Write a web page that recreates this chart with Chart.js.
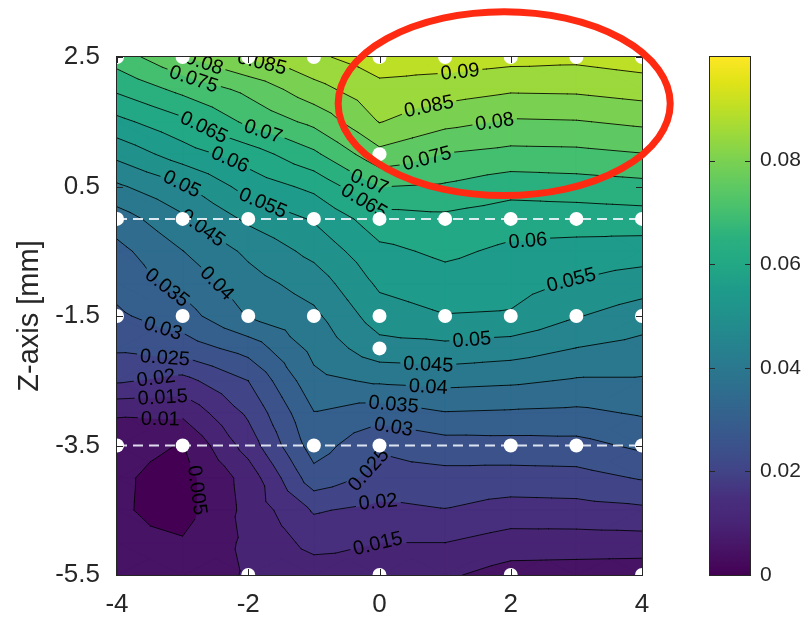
<!DOCTYPE html>
<html>
<head>
<meta charset="utf-8">
<title>Z-axis contour map</title>
<script src="https://cdn.jsdelivr.net/npm/chart.js@4.4.1/dist/chart.umd.min.js"></script>
<style>
  html, body { margin: 0; padding: 0; background: #ffffff; }
  #frame { width: 803px; height: 623px; }
</style>
</head>
<body>
<div id="frame"><canvas id="chart" width="803" height="623"></canvas></div>
<script>
// Measurement grid: X positions (columns) and Z positions (rows, top to bottom)
const gridX = [-4, -3, -2, -1, 0, 1, 2, 3, 4];
const gridZ = [2.5, 2, 1.5, 1, 0.5, 0, -0.5, -1, -1.5, -2, -2.5, -3, -3.5, -4, -4.5, -5, -5.5];

// Field value along each grid row (X = -4 ... 4)
const zRow_2_5  = [0.0724, 0.0795, 0.0855, 0.0890, 0.0928, 0.0926, 0.0918, 0.0913, 0.0927];
const zRow_2_0  = [0.0659, 0.0714, 0.0763, 0.0832, 0.0885, 0.0874, 0.0857, 0.0859, 0.0872];
const zRow_1_5  = [0.0586, 0.0638, 0.0711, 0.0763, 0.0852, 0.0815, 0.0794, 0.0797, 0.0810];
const zRow_1_0  = [0.0514, 0.0576, 0.0624, 0.0690, 0.0785, 0.0748, 0.0735, 0.0737, 0.0748];
const zRow_0_5  = [0.0442, 0.0493, 0.0570, 0.0613, 0.0701, 0.0694, 0.0670, 0.0676, 0.0684];
const zRow_0_0  = [0.0375, 0.0441, 0.0510, 0.0555, 0.0629, 0.0638, 0.0622, 0.0623, 0.0627];
const zRow_m0_5 = [0.0335, 0.0399, 0.0460, 0.0515, 0.0588, 0.0610, 0.0590, 0.0582, 0.0575];
const zRow_m1_0 = [0.0315, 0.0365, 0.0430, 0.0472, 0.0559, 0.0580, 0.0569, 0.0544, 0.0523];
const zRow_m1_5 = [0.0292, 0.0328, 0.0403, 0.0439, 0.0526, 0.0548, 0.0545, 0.0503, 0.0474];
const zRow_m2_0 = [0.0257, 0.0274, 0.0320, 0.0415, 0.0481, 0.0486, 0.0474, 0.0449, 0.0433];
const zRow_m2_5 = [0.0207, 0.0184, 0.0250, 0.0386, 0.0408, 0.0415, 0.0409, 0.0395, 0.0395];
const zRow_m3_0 = [0.0106, 0.0110, 0.0209, 0.0348, 0.0323, 0.0347, 0.0343, 0.0339, 0.0355];
const zRow_m3_5 = [0.0065, 0.0048, 0.0172, 0.0325, 0.0255, 0.0278, 0.0281, 0.0284, 0.0310];
const zRow_m4_0 = [0.0058, 0.0030, 0.0120, 0.0280, 0.0235, 0.0233, 0.0230, 0.0232, 0.0254];
const zRow_m4_5 = [0.0057, 0.0030, 0.0115, 0.0205, 0.0186, 0.0198, 0.0179, 0.0182, 0.0190];
const zRow_m5_0 = [0.0060, 0.0055, 0.0110, 0.0165, 0.0150, 0.0150, 0.0128, 0.0127, 0.0128];
const zRow_m5_5 = [0.0065, 0.0070, 0.0105, 0.0125, 0.0128, 0.0108, 0.0078, 0.0075, 0.0070];

const fieldRows = [zRow_2_5, zRow_2_0, zRow_1_5, zRow_1_0, zRow_0_5, zRow_0_0, zRow_m0_5,
  zRow_m1_0, zRow_m1_5, zRow_m2_0, zRow_m2_5, zRow_m3_0, zRow_m3_5, zRow_m4_0, zRow_m4_5,
  zRow_m5_0, zRow_m5_5];

// Contour levels and colour range
const contourLevels = [0.005, 0.01, 0.015, 0.02, 0.025, 0.03, 0.035, 0.04, 0.045, 0.05,
  0.055, 0.06, 0.065, 0.07, 0.075, 0.08, 0.085, 0.09];
const colorMin = 0;
const colorMax = 0.1;

// Axis ticks
const xTickValues = [-4, -2, 0, 2, 4];
const yTickValues = [-5.5, -3.5, -1.5, 0.5, 2.5];
const colorTickValues = [0, 0.02, 0.04, 0.06, 0.08];

// Probe positions, grouped by row
const probeRowZ = [2.5, 1, 0, -1.5, -2, -3.5, -5.5];
const probeRowX = [
  [-4, -3, -2, -1, 0, 1, 2, 3, 4],
  [0],
  [-4, -3, -2, -1, 0, 1, 2, 3, 4],
  [-4, -3, -2, -1, 0, 1, 2, 3, 4],
  [0],
  [-4, -3, -1, 0, 2, 3, 4],
  [-2, 0, 2, 4]
];

// Dashed guide rows
const guideRowZ = [0, -3.5];

// Inline contour labels: level and approximate spot (X, Z) on its line
const labelLevel = [0.08, 0.085, 0.075, 0.065, 0.07, 0.06, 0.05, 0.055, 0.045, 0.07, 0.065,
  0.09, 0.085, 0.08, 0.075, 0.06, 0.055, 0.05, 0.045, 0.04, 0.035, 0.03, 0.025, 0.02, 0.015,
  0.04, 0.035, 0.03, 0.025, 0.02, 0.015, 0.01, 0.005];
const labelX = [-2.66, -1.79, -2.81, -2.66, -1.79, -2.28, -3.04, -1.79, -2.66, -0.22, -0.27,
  1.23, 0.77, 1.76, 0.77, 2.26, 2.93, 1.41, 0.74, 0.74, 0.21, 0.21, -0.20, -0.02, -0.02,
  -2.66, -3.30, -3.30, -3.27, -3.39, -3.30, -3.34, -2.81];
const labelZ = [2.45, 2.42, 2.22, 1.45, 1.30, 0.91, 0.45, 0.21, -0.09, 0.45, 0.21,
  2.25, 1.65, 1.47, 0.75, -0.33, -0.99, -1.90, -2.32, -2.64, -2.92, -3.23, -3.85, -4.37, -5.04,
  -1.18, -1.14, -1.69, -2.10, -2.55, -2.80, -3.08, -4.19];

// Highlighted region (ellipse centre and half-axes in X / Z units)
const highlightCenter = [1.9, 1.78];
const highlightHalfAxes = [2.53, 1.42];

const FONT = '"Liberation Sans", Arial, Helvetica, sans-serif';
const INK = '#262626';

// viridis colormap, 21 evenly spaced stops
const VIRIDIS = ['#440154', '#471365', '#482475', '#472f7d', '#414487', '#3b528b', '#355f8d',
  '#2f6c8e', '#2a788e', '#25848e', '#21918c', '#1e9b8a', '#22a884', '#2ab07f', '#44bf70',
  '#5ec962', '#7ad151', '#9bd93c', '#bddf26', '#dfe318', '#fde725'];
const VIR_RGB = VIRIDIS.map(h => [1, 3, 5].map(k => parseInt(h.slice(k, k + 2), 16)));
function viridis(t) {
  t = Math.max(0, Math.min(1, t));
  const s = t * (VIR_RGB.length - 1);
  const i = Math.min(VIR_RGB.length - 2, Math.floor(s));
  const f = s - i, a = VIR_RGB[i], b = VIR_RGB[i + 1];
  return 'rgb(' + a.map((c, k) => Math.round(c + (b[k] - c) * f)).join(',') + ')';
}
const normColor = v => viridis((v - colorMin) / (colorMax - colorMin));

// Keep the part of a polygon where value >= level
function clipAbove(poly, level) {
  const out = [];
  for (let k = 0; k < poly.length; k++) {
    const p = poly[k], q = poly[(k + 1) % poly.length];
    const pin = p[2] >= level, qin = q[2] >= level;
    if (pin) out.push(p);
    if (pin !== qin) {
      const t = (level - p[2]) / (q[2] - p[2]);
      out.push([p[0] + t * (q[0] - p[0]), p[1] + t * (q[1] - p[1]), level]);
    }
  }
  return out;
}

function closestOnSegment(s, px, py) {
  const [a, b] = s;
  const dx = b[0] - a[0], dy = b[1] - a[1];
  const L2 = dx * dx + dy * dy || 1e-9;
  let t = ((px - a[0]) * dx + (py - a[1]) * dy) / L2;
  t = Math.max(0, Math.min(1, t));
  const x = a[0] + t * dx, y = a[1] + t * dy;
  return { x, y, d: Math.hypot(px - x, py - y) };
}

// Filled contours, contour lines and inline labels
const fieldPlugin = {
  id: 'fieldPlugin',
  beforeDatasetsDraw(chart) {
    const { ctx, chartArea: area } = chart;
    const sx = chart.scales.x, sy = chart.scales.y;
    const nodes = fieldRows.map((row, j) => row.map((v, i) =>
      [sx.getPixelForValue(gridX[i]), sy.getPixelForValue(gridZ[j]), v]));
    const tris = [];
    for (let j = 0; j < nodes.length - 1; j++) {
      for (let i = 0; i < nodes[j].length - 1; i++) {
        const a = nodes[j][i], b = nodes[j][i + 1], c = nodes[j + 1][i + 1], d = nodes[j + 1][i];
        const m = [(a[0] + b[0] + c[0] + d[0]) / 4, (a[1] + b[1] + c[1] + d[1]) / 4,
          (a[2] + b[2] + c[2] + d[2]) / 4];
        tris.push([a, b, m], [b, c, m], [c, d, m], [d, a, m]);
      }
    }

    ctx.save();
    ctx.beginPath();
    ctx.rect(area.left, area.top, area.right - area.left, area.bottom - area.top);
    ctx.clip();

    // bands
    ctx.fillStyle = normColor(colorMin);
    ctx.fillRect(area.left, area.top, area.right - area.left, area.bottom - area.top);
    ctx.lineJoin = 'round';
    for (const L of contourLevels) {
      const col = normColor(L);
      ctx.beginPath();
      for (const t of tris) {
        const poly = clipAbove(t, L);
        if (poly.length < 3) continue;
        ctx.moveTo(poly[0][0], poly[0][1]);
        for (let k = 1; k < poly.length; k++) ctx.lineTo(poly[k][0], poly[k][1]);
        ctx.closePath();
      }
      ctx.fillStyle = col;
      ctx.strokeStyle = col;
      ctx.lineWidth = 1;
      ctx.fill();
      ctx.stroke();
    }

    // iso-lines
    const segments = contourLevels.map(L => {
      const out = [];
      for (const t of tris) {
        const pts = [];
        for (let k = 0; k < 3; k++) {
          const p = t[k], q = t[(k + 1) % 3];
          if ((p[2] >= L) !== (q[2] >= L)) {
            const u = (L - p[2]) / (q[2] - p[2]);
            pts.push([p[0] + u * (q[0] - p[0]), p[1] + u * (q[1] - p[1])]);
          }
        }
        if (pts.length === 2) out.push(pts);
      }
      return out;
    });

    // label placement along the iso-lines
    const labelFont = '20px ' + FONT;
    ctx.font = labelFont;
    const placed = [];
    labelLevel.forEach((lev, n) => {
      const k = contourLevels.findIndex(L => Math.abs(L - lev) < 1e-9);
      const segs = segments[k];
      if (!segs || !segs.length) return;
      const px = sx.getPixelForValue(labelX[n]), py = sy.getPixelForValue(labelZ[n]);
      let best = null;
      for (const s of segs) {
        const q = closestOnSegment(s, px, py);
        if (!best || q.d < best.d) best = Object.assign(q, { s });
      }
      const rx = best.s[1][0] - best.s[0][0], ry = best.s[1][1] - best.s[0][1];
      let ux = 0, uy = 0;
      for (const s of segs) {
        const mx = (s[0][0] + s[1][0]) / 2, my = (s[0][1] + s[1][1]) / 2;
        if (Math.hypot(mx - best.x, my - best.y) > 22) continue;
        let dx = s[1][0] - s[0][0], dy = s[1][1] - s[0][1];
        if (dx * rx + dy * ry < 0) { dx = -dx; dy = -dy; }
        ux += dx; uy += dy;
      }
      let ang = Math.atan2(uy, ux);
      if (ang > Math.PI / 2) ang -= Math.PI;
      if (ang <= -Math.PI / 2) ang += Math.PI;
      const text = String(lev);
      placed.push({ x: best.x, y: best.y, ang, text, w: ctx.measureText(text).width });
    });

    const off = document.createElement('canvas');
    off.width = chart.width;
    off.height = chart.height;
    const oc = off.getContext('2d');
    oc.strokeStyle = 'rgba(0,0,0,0.85)';
    oc.lineWidth = 1;
    oc.lineCap = 'round';
    oc.beginPath();
    segments.forEach(list => list.forEach(s => { oc.moveTo(s[0][0], s[0][1]); oc.lineTo(s[1][0], s[1][1]); }));
    oc.stroke();
    oc.globalCompositeOperation = 'destination-out';
    placed.forEach(p => {
      oc.save();
      oc.translate(p.x, p.y);
      oc.rotate(p.ang);
      oc.fillRect(-p.w / 2 - 3, -8, p.w + 6, 16);
      oc.restore();
    });
    ctx.drawImage(off, 0, 0, chart.width, chart.height);

    ctx.fillStyle = '#000000';
    ctx.font = labelFont;
    ctx.textAlign = 'center';
    ctx.textBaseline = 'middle';
    placed.forEach(p => {
      ctx.save();
      ctx.translate(p.x, p.y);
      ctx.rotate(p.ang);
      ctx.fillText(p.text, 0, 1);
      ctx.restore();
    });
    ctx.restore();
  }
};

// Axes frame, ticks, colour bar and highlight
const framePlugin = {
  id: 'framePlugin',
  afterDatasetsDraw(chart) {
    const { ctx, chartArea: area } = chart;
    const sx = chart.scales.x, sy = chart.scales.y, cb = chart.scales.cb;
    const tick = 6;
    ctx.save();
    ctx.strokeStyle = INK;
    ctx.lineWidth = 1;
    ctx.strokeRect(area.left - 0.5, area.top - 0.5, area.right - area.left + 1, area.bottom - area.top + 1);
    ctx.beginPath();
    xTickValues.forEach(v => {
      const x = Math.round(sx.getPixelForValue(v)) + 0.5;
      ctx.moveTo(x, area.bottom); ctx.lineTo(x, area.bottom - tick);
      ctx.moveTo(x, area.top); ctx.lineTo(x, area.top + tick);
    });
    yTickValues.forEach(v => {
      const y = Math.round(sy.getPixelForValue(v)) + 0.5;
      ctx.moveTo(area.left, y); ctx.lineTo(area.left + tick, y);
      ctx.moveTo(area.right, y); ctx.lineTo(area.right - tick, y);
    });
    ctx.stroke();

    // colour bar
    const barLeft = cb.left + 68, barW = 40;
    const yTop = cb.getPixelForValue(colorMax), yBot = cb.getPixelForValue(colorMin);
    const grad = ctx.createLinearGradient(0, yBot, 0, yTop);
    VIRIDIS.forEach((c, i) => grad.addColorStop(i / (VIRIDIS.length - 1), c));
    ctx.fillStyle = grad;
    ctx.fillRect(barLeft, yTop, barW, yBot - yTop);
    ctx.strokeStyle = INK;
    ctx.strokeRect(barLeft - 0.5, yTop - 0.5, barW + 1, yBot - yTop + 1);
    ctx.beginPath();
    colorTickValues.forEach(v => {
      const y = Math.round(cb.getPixelForValue(v)) + 0.5;
      ctx.moveTo(barLeft, y); ctx.lineTo(barLeft + 5, y);
      ctx.moveTo(barLeft + barW, y); ctx.lineTo(barLeft + barW - 5, y);
    });
    ctx.stroke();

    // highlight ellipse
    const cx = sx.getPixelForValue(highlightCenter[0]);
    const cy = sy.getPixelForValue(highlightCenter[1]);
    const rx = Math.abs(sx.getPixelForValue(highlightCenter[0] + highlightHalfAxes[0]) - cx);
    const ry = Math.abs(sy.getPixelForValue(highlightCenter[1] + highlightHalfAxes[1]) - cy);
    ctx.beginPath();
    ctx.ellipse(cx, cy, rx, ry, 0, 0, Math.PI * 2);
    ctx.strokeStyle = '#fe2b12';
    ctx.lineWidth = 7;
    ctx.stroke();
    ctx.restore();
  }
};

const probePoints = [];
probeRowZ.forEach((z, r) => probeRowX[r].forEach(x => probePoints.push({ x, y: z })));

const guideSets = guideRowZ.map(z => ({
  type: 'line',
  label: 'guide ' + z,
  data: [{ x: gridX[0], y: z }, { x: gridX[gridX.length - 1], y: z }],
  borderColor: 'rgba(240,244,252,0.9)',
  borderWidth: 2,
  borderDash: [10, 6],
  pointRadius: 0,
  fill: false,
  order: 1
}));

const tickFont = { family: FONT, size: 26 };
const noEdgePadding = s => { s.paddingTop = 0; s.paddingBottom = 0; };

new Chart(document.getElementById('chart'), {
  type: 'scatter',
  data: {
    datasets: [
      {
        label: 'probes',
        data: probePoints,
        pointRadius: 7,
        pointHoverRadius: 7,
        backgroundColor: '#ffffff',
        borderWidth: 0,
        clip: false,
        order: 0
      },
      ...guideSets
    ]
  },
  options: {
    responsive: false,
    animation: false,
    devicePixelRatio: 1,
    events: [],
    layout: { padding: { top: 57, left: 0, right: 0, bottom: 0 } },
    plugins: { legend: { display: false }, tooltip: { enabled: false } },
    scales: {
      x: {
        type: 'linear', min: -4, max: 4,
        afterBuildTicks: s => { s.ticks = xTickValues.map(v => ({ value: v })); },
        afterFit: s => { s.height = 48; s.paddingLeft = 0; s.paddingRight = 0; },
        grid: { display: false, drawTicks: false },
        border: { display: false },
        ticks: { font: tickFont, color: INK, padding: 14, maxRotation: 0, callback: v => String(v) }
      },
      y: {
        type: 'linear', min: -5.5, max: 2.5,
        afterBuildTicks: s => { s.ticks = yTickValues.map(v => ({ value: v })); },
        afterFit: s => { s.width = 117; noEdgePadding(s); },
        grid: { display: false, drawTicks: false },
        border: { display: false },
        ticks: { font: tickFont, color: INK, padding: 17, callback: v => String(v) },
        title: { display: true, text: 'Z-axis [mm]', color: INK, font: { family: FONT, size: 29 }, padding: { top: 13, bottom: 0 } }
      },
      cb: {
        type: 'linear', position: 'right', min: colorMin, max: colorMax,
        afterBuildTicks: s => { s.ticks = colorTickValues.map(v => ({ value: v })); },
        afterFit: s => { s.width = 161; noEdgePadding(s); },
        grid: { display: false, drawTicks: false },
        border: { display: false },
        ticks: { font: { family: FONT, size: 21 }, color: INK, padding: 118, callback: v => String(v) }
      }
    }
  },
  plugins: [fieldPlugin, framePlugin]
});
</script>
</body>
</html>
